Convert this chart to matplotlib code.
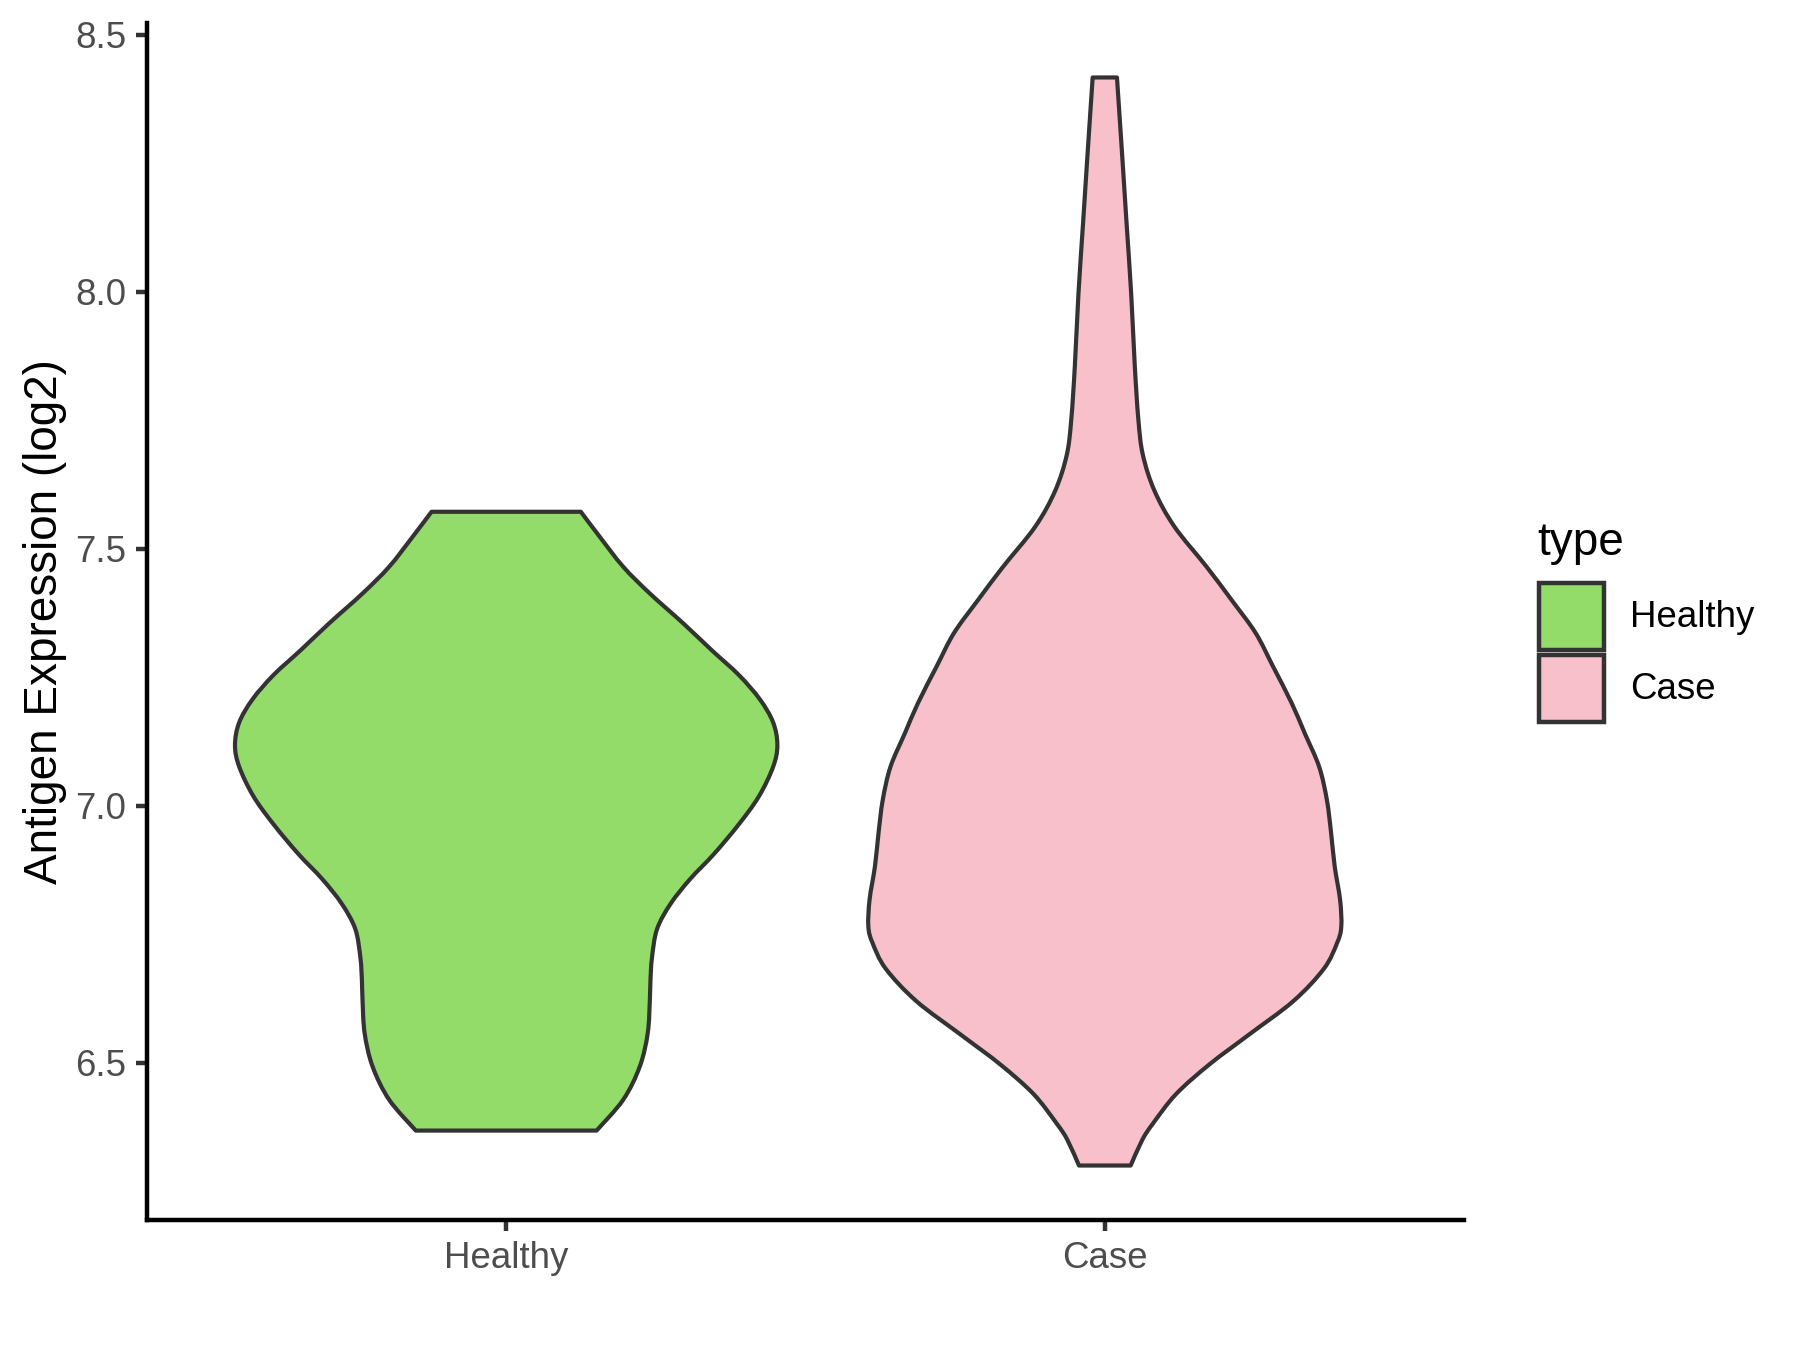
import numpy as np
import matplotlib
matplotlib.use("Agg")
import matplotlib.pyplot as plt
from matplotlib.patches import Rectangle, PathPatch
from matplotlib.path import Path

plt.rcParams['font.family'] = ['Liberation Sans', 'DejaVu Sans']

# ---- data ----
categories = ["Healthy", "Case"]
fill_colors = ["#93DC6A", "#F7C0CB"]

# violin outline profiles: expression level and half-width (x units)
healthy_y = [7.572, 7.523, 7.465, 7.413, 7.355, 7.303, 7.254, 7.207, 7.162,
             7.118, 7.076, 7.018, 6.963, 6.906, 6.857, 6.809, 6.760, 6.704,
             6.660, 6.623, 6.558, 6.493, 6.428, 6.368]
healthy_hw = [0.1247, 0.1565, 0.1955, 0.240, 0.2957, 0.343, 0.389, 0.4238, 0.446,
              0.453, 0.446, 0.422, 0.388, 0.347, 0.307, 0.2745, 0.252, 0.2435,
              0.241, 0.240, 0.2365, 0.2233, 0.1955, 0.151]

case_y = [8.417, 8.276, 8.136, 7.997, 7.857, 7.752, 7.683, 7.613, 7.543,
          7.465, 7.400, 7.336, 7.271, 7.200, 7.141, 7.076, 7.011, 6.947,
          6.882, 6.817, 6.765, 6.733, 6.683, 6.620, 6.554, 6.497, 6.439,
          6.381, 6.350, 6.300]
case_hw = [0.0203, 0.0284, 0.0362, 0.0440, 0.0500, 0.0560, 0.0635, 0.0829, 0.1163,
           0.170, 0.212, 0.252, 0.281, 0.312, 0.334, 0.358, 0.371, 0.378,
           0.384, 0.393, 0.395, 0.388, 0.366, 0.315, 0.240, 0.175, 0.119,
           0.080, 0.0626, 0.0432]

y_ticks = [6.5, 7.0, 7.5, 8.0, 8.5]
y_label = "Antigen Expression (log2)"
legend_title = "type"

profiles = [(healthy_y, healthy_hw), (case_y, case_hw)]


def smooth_side(pts):
    """Catmull-Rom curve through the given outline points as cubic Bezier segments."""
    verts, codes = [], []
    n = len(pts)
    for i in range(n - 1):
        p0 = pts[max(i - 1, 0)]
        p1 = pts[i]
        p2 = pts[i + 1]
        p3 = pts[min(i + 2, n - 1)]
        c1 = p1 + (p2 - p0) / 6.0
        c2 = p2 - (p3 - p1) / 6.0
        verts += [c1, c2, p2]
        codes += [Path.CURVE4] * 3
    return verts, codes


def violin_path(pos, ys, hws):
    ys = np.asarray(ys, float)
    hws = np.asarray(hws, float)
    left = np.column_stack([pos - hws, ys])            # top -> bottom
    right = np.column_stack([pos + hws, ys])[::-1]     # bottom -> top
    verts = [left[0]]
    codes = [Path.MOVETO]
    v, c = smooth_side(left)
    verts += v; codes += c
    verts.append(right[0]); codes.append(Path.LINETO)
    v, c = smooth_side(right)
    verts += v; codes += c
    verts.append(left[0]); codes.append(Path.CLOSEPOLY)
    return Path(np.array(verts), codes)


# ---- figure ----
fig = plt.figure(figsize=(6, 4.5), dpi=300)
ax = fig.add_axes([147/1800, 1 - 1220/1350, (1464-147)/1800, (1220-23)/1350])

edge = "#333333"
for i, (cat, (ys, hws)) in enumerate(zip(categories, profiles)):
    pos = i + 1
    patch = PathPatch(violin_path(pos, ys, hws), facecolor=fill_colors[i],
                      edgecolor=edge, linewidth=1.0, joinstyle='round', zorder=2)
    ax.add_patch(patch)

ax.set_xlim(0.4, 2.6)
ax.set_ylim(6.194, 8.523)
ax.set_xticks([1, 2])
ax.set_xticklabels(categories)
ax.set_yticks(y_ticks)
ax.set_yticklabels([f"{v:.1f}" for v in y_ticks])

for s in ["top", "right"]:
    ax.spines[s].set_visible(False)
for s in ["left", "bottom"]:
    ax.spines[s].set_color("black")
    ax.spines[s].set_linewidth(1.07)
ax.tick_params(axis="both", length=2.75, width=1.07, color="#333333",
               labelsize=8.8, labelcolor="#4D4D4D", pad=2.2)

ax.set_ylabel(y_label, fontsize=11, color="black")
ax.yaxis.set_label_coords(-0.061, 0.5)

# ---- legend (ggplot-style) ----
fig.text(1537/1800, 1 - 555/1350, legend_title, fontsize=11, ha="left",
         va="baseline", color="black")
key_tops = [583, 655]
for i, cat in enumerate(categories):
    top = key_tops[i]
    r = Rectangle((1539/1800, 1 - (top + 67)/1350), 65/1800, 67/1350,
                  transform=fig.transFigure, facecolor=fill_colors[i],
                  edgecolor=edge, linewidth=1.07)
    fig.add_artist(r)
    fig.text(1630/1800, 1 - (top + 34.5)/1350, cat, fontsize=8.8,
             ha="left", va="center", color="black")

fig.savefig("out.png", dpi=300, facecolor="white")
